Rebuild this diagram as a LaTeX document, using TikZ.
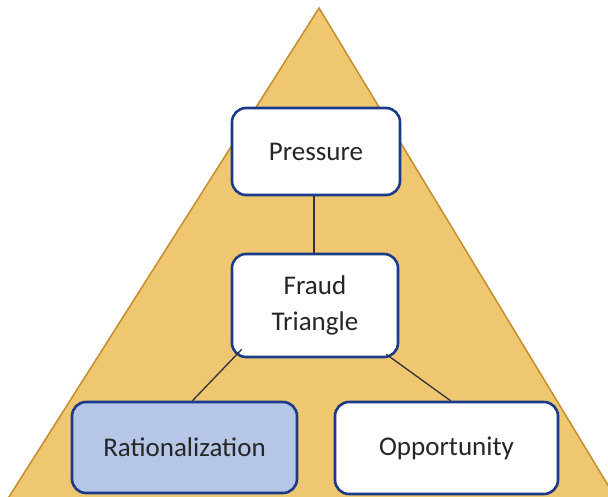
\documentclass[tikz,border=0pt]{standalone}
\usepackage{fontspec}
\setmainfont{Carlito}
\usetikzlibrary{calc}
\definecolor{pyramid}{RGB}{238,199,112}
\definecolor{pyramidedge}{RGB}{196,142,48}
\definecolor{boxblue}{RGB}{28,58,138}
\definecolor{ratfill}{RGB}{182,198,230}
\definecolor{linkgray}{RGB}{50,50,58}
\tikzset{
	fbox/.style={draw=boxblue, line width=2.6pt, rounded corners=14pt, fill=white,
		align=center, font=\fontsize{27}{36}\selectfont, text=black!85},
	link/.style={draw=linkgray, line width=1.3pt}
}
\begin{document}
\begin{tikzpicture}[x=1pt, y=-1pt]
		\useasboundingbox (0,0) rectangle (608,496);
		\clip (0,0) rectangle (608,496);
		% background pyramid
		\draw [fill=pyramid, draw=pyramidedge, line width=1.5pt] (319,8) -- (7,500) -- (617,500) -- cycle;
		% the three elements
		\node [fbox, minimum width=168pt, minimum height=87pt] (pressure) at (316,151.5) {Pressure};
		\node [fbox, minimum width=166pt, minimum height=103pt] (fraud) at (315,305.5) {Fraud\\Triangle};
		\node [fbox, fill=ratfill, minimum width=225pt, minimum height=91pt] (rational) at (184.5,447.5) {Rationalization};
		\node [fbox, minimum width=223pt, minimum height=92pt] (opport) at (446.5,448) {Opportunity};
		\draw [link] ($(pressure.south)+(-2,0)$) -- ($(fraud.north)+(-1,0)$);
		\draw [link] ($(fraud.south west)+(11,-9)$) -- ($(rational.north)+(8,0)$);
		\draw [link] ($(fraud.south east)+(-13,-4)$) -- ($(opport.north)+(4,0)$);
	\end{tikzpicture}
\end{document}
